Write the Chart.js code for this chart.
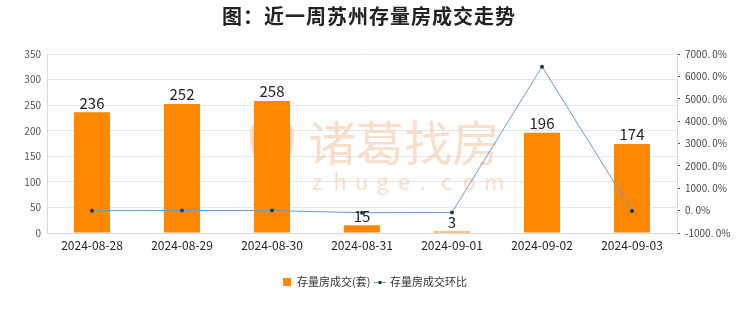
<!DOCTYPE html>
<html>
<head>
<meta charset="utf-8">
<script src="https://cdn.jsdelivr.net/npm/chart.js@4"></script>
<style>
  html, body { margin: 0; padding: 0; background: #fff; }
  #wrap { width: 740px; height: 312px; }
</style>
</head>
<body>
<div id="wrap"><canvas id="chart" width="740" height="312"></canvas></div>
<script>
// ---------- Data ----------
const dates = ["2024-08-28", "2024-08-29", "2024-08-30", "2024-08-31", "2024-09-01", "2024-09-02", "2024-09-03"];
const deals = [236, 252, 258, 15, 3, 196, 174];
const dealsChange = [-2.5, 6.8, 2.4, -94.2, -80.0, 6433.3, -11.2];

const titleText = "图：近一周苏州存量房成交走势";
const barLabel = "存量房成交(套)";
const lineLabel = "存量房成交环比";

const FONT = "'Noto Sans CJK SC', 'Noto Sans', sans-serif";

// ---------- Plugins ----------
// watermark behind the bars
const watermark = {
  id: "watermark",
  beforeDatasetsDraw(chart) {
    const ctx = chart.ctx;
    ctx.save();
    ctx.fillStyle = "rgba(245, 200, 165, 0.6)";
    // simple feather-like logo
    ctx.beginPath();
    ctx.ellipse(260, 150, 8, 26, -0.25, 0, Math.PI * 2);
    ctx.fill();
    ctx.beginPath();
    ctx.ellipse(284, 150, 8, 26, 0.25, 0, Math.PI * 2);
    ctx.fill();
    ctx.font = "48px " + FONT;
    ctx.textBaseline = "middle";
    ctx.textAlign = "left";
    ctx.fillText("诸葛找房", 308, 143);
    ctx.font = "22px " + FONT;
    const letters = "zhuge.com".split("");
    letters.forEach((c, i) => ctx.fillText(c, 312 + i * 21.5, 182));
    ctx.restore();
  }
};

// value labels above bars, title and legend
const extras = {
  id: "extras",
  afterDatasetsDraw(chart) {
    const ctx = chart.ctx;
    const meta = chart.getDatasetMeta(1);
    ctx.save();
    ctx.fillStyle = "#222";
    ctx.font = "15px " + FONT;
    ctx.textAlign = "center";
    ctx.textBaseline = "bottom";
    meta.data.forEach((bar, i) => {
      ctx.fillText(deals[i], bar.x, bar.y - 2);
    });
    ctx.restore();
  },
  afterDraw(chart) {
    const ctx = chart.ctx;
    ctx.save();
    // title
    ctx.fillStyle = "#222";
    ctx.font = "bold 20px " + FONT;
    ctx.textAlign = "center";
    ctx.textBaseline = "middle";
    ctx.letterSpacing = "1px";
    ctx.fillText(titleText, 369, 16);
    ctx.letterSpacing = "0px";

    // legend
    ctx.font = "11px " + FONT;
    ctx.textAlign = "left";
    ctx.fillStyle = "#ff8800";
    ctx.fillRect(283, 278, 8, 8);
    ctx.fillStyle = "#333";
    ctx.fillText(barLabel, 297, 282);
    ctx.strokeStyle = "#6a9bd1";
    ctx.lineWidth = 1;
    ctx.beginPath();
    ctx.moveTo(374, 282.5);
    ctx.lineTo(386, 282.5);
    ctx.stroke();
    ctx.fillStyle = "#1f3550";
    ctx.beginPath();
    ctx.arc(380, 282.5, 1.8, 0, Math.PI * 2);
    ctx.fill();
    ctx.fillStyle = "#333";
    ctx.fillText(lineLabel, 390, 282);
    ctx.restore();
  }
};

// ---------- Chart ----------
const ctx = document.getElementById("chart").getContext("2d");
new Chart(ctx, {
  data: {
    labels: dates,
    datasets: [
      {
        type: "line",
        label: lineLabel,
        data: dealsChange,
        yAxisID: "y1",
        borderColor: "#6a9bd1",
        borderWidth: 1,
        pointRadius: 2,
        pointBackgroundColor: "#1f3550",
        pointBorderColor: "#1f3550",
        pointBorderWidth: 0,
        tension: 0,
        order: 0
      },
      {
        type: "bar",
        label: barLabel,
        data: deals,
        yAxisID: "y",
        backgroundColor: "#ff8800",
        barPercentage: 0.4,
        categoryPercentage: 1,
        order: 1
      }
    ]
  },
  plugins: [watermark, extras],
  options: {
    responsive: false,
    animation: false,
    layout: { padding: { top: 54, bottom: 59, left: 0, right: 0 } },
    plugins: {
      legend: { display: false },
      title: { display: false },
      tooltip: { enabled: false }
    },
    scales: {
      x: {
        grid: { display: false, drawTicks: false },
        border: { color: "#d9d9d9" },
        ticks: { color: "#222", font: { family: FONT, size: 12 }, padding: 5, maxRotation: 0 },
        afterFit: s => { s.height = 20; }
      },
      y: {
        position: "left",
        min: 0, max: 350,
        ticks: { stepSize: 50, color: "#555", font: { family: FONT, size: 10 }, padding: 6 },
        grid: { color: "#e6e6e6", drawTicks: false },
        border: { color: "#d9d9d9" },
        afterFit: s => { s.width = 47; }
      },
      y1: {
        position: "right",
        min: -1000, max: 7000,
        ticks: {
          stepSize: 500,
          color: "#444",
          font: { family: FONT, size: 10 },
          padding: 5,
          callback: v => (v % 1000 === 0 ? v + ". 0%" : "")
        },
        grid: { drawOnChartArea: false, drawTicks: true, tickLength: 3, color: "#555" },
        border: { color: "#d9d9d9" },
        afterFit: s => { s.width = 63; }
      }
    }
  }
});
</script>
</body>
</html>
